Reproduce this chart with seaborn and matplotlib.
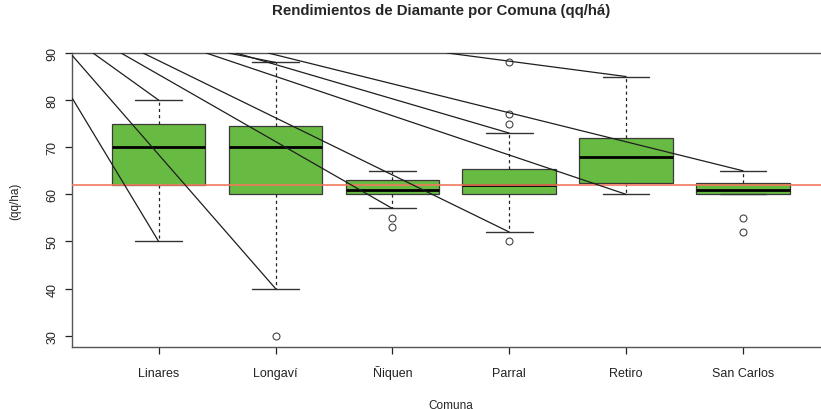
import matplotlib
matplotlib.use("Agg")
import matplotlib.pyplot as plt
import numpy as np
import pandas as pd
import seaborn as sns

# Box summary values, one entry per comuna
comunas = ["Linares", "Longaví", "Ñiquen", "Parral", "Retiro", "San Carlos"]
whisker_low = [50, 40, 57, 52, 60, 60]
q1 = [62, 60, 60, 60, 62.5, 60]
medians = [70, 70, 61, 62, 68, 61]
q3 = [75, 74.5, 63, 65.3, 72, 62.4]
whisker_high = [80, 88, 65, 73, 85, 65]
outliers = [[], [30], [55, 53], [88, 77, 75, 50], [], [55, 52]]

reference_value = 62

# Stray black lines: where each enters the plot and which whisker end it stops at
line_start_x = [0.263, 0.263, 0.438, 0.678, 0.866, 1.406, 1.594, 1.663, 1.937, 3.469]
line_start_y = [80.3, 89.4, 90, 90, 90, 90, 90, 90, 90, 90]
line_end_group = [0, 1, 0, 2, 3, 4, 1, 3, 5, 4]
line_end_value = [50, 40, 80, 57, 52, 60, 88, 73, 65, 85]

sns.set_style("ticks")
plt.rcParams['font.family'] = ['Liberation Sans', 'DejaVu Sans']

fig = plt.figure(figsize=(8.21, 4.10), dpi=100)
ax = fig.add_axes([0.0879, 0.1512, 0.9224, 0.7171])

positions = np.arange(1, len(comunas) + 1)
stats = []
for i, name in enumerate(comunas):
    stats.append({'label': name, 'whislo': whisker_low[i], 'q1': q1[i], 'med': medians[i],
                  'q3': q3[i], 'whishi': whisker_high[i], 'fliers': outliers[i]})

ax.bxp(stats, positions=positions, widths=0.8, patch_artist=True, manage_ticks=False,
       boxprops=dict(facecolor='#68bb42', edgecolor='#3a3a3a', linewidth=0.9),
       medianprops=dict(color='black', linewidth=2.0),
       whiskerprops=dict(color='#222222', linewidth=0.9, linestyle=(0, (2.5, 2.5))),
       capprops=dict(color='#333333', linewidth=1.0),
       flierprops=dict(marker='o', markerfacecolor='none', markeredgecolor='#444444',
                       markersize=5, markeredgewidth=0.8))

ax.axhline(reference_value, color='#f07a5c', linewidth=1.2, zorder=4)

# Segments in long form for seaborn
seg = pd.DataFrame({
    'x': line_start_x + [positions[g] for g in line_end_group],
    'y': line_start_y + line_end_value,
    'id': list(range(len(line_start_x))) * 2,
})
sns.lineplot(data=seg, x='x', y='y', units='id', estimator=None, color='#1e1e1e',
             linewidth=0.9, ax=ax, legend=False, zorder=5)

ax.set_xlim(0.26, 6.74)
ax.set_ylim(27.6, 90)
ax.set_xticks(positions)
ax.set_xticklabels(comunas, fontsize=9, va='baseline')
ax.set_yticks([30, 40, 50, 60, 70, 80, 90])
ax.set_yticklabels(['30', '40', '50', '60', '70', '80', '90'], fontsize=9, rotation=90, va='center')
ax.tick_params(axis='x', length=5, width=0.9, pad=16, colors='#222222')
ax.tick_params(axis='y', length=5, width=0.9, pad=5, colors='#222222')
for side in ['left', 'bottom', 'top', 'right']:
    ax.spines[side].set_color('#555555')
    ax.spines[side].set_linewidth(1.0)

ax.set_xlabel("Comuna", fontsize=8.5, labelpad=14)
ax.set_ylabel("(qq/ha)", fontsize=8.5, labelpad=18)
ax.set_title("Rendimientos de Diamante por Comuna (qq/há)", fontsize=10.8, fontweight='bold',
             pad=28, x=0.487)

fig.savefig("out.png", dpi=100)
